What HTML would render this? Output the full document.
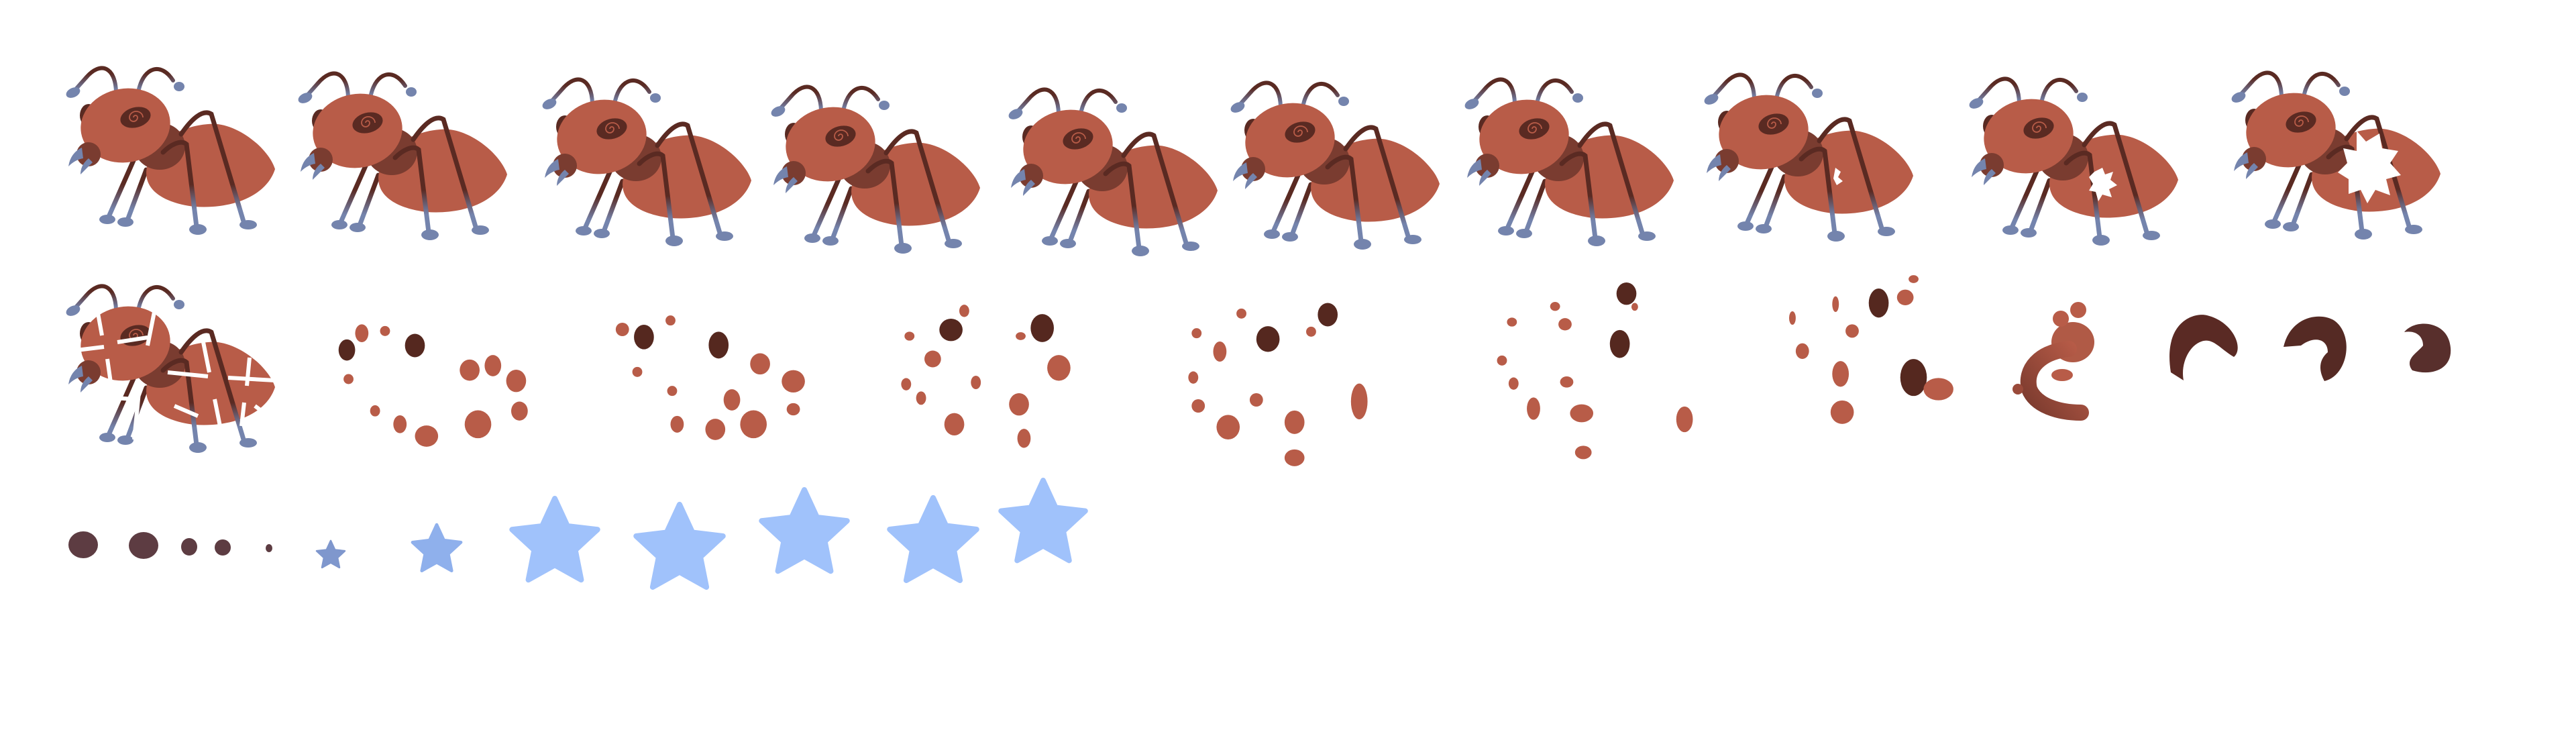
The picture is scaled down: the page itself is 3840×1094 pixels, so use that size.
<!DOCTYPE html>
<html><head><meta charset="utf-8"><title>Ant sprite sheet</title>
<style>html,body{margin:0;padding:0;background:#fff;}svg{display:block;}</style></head>
<body>
<svg id="sheet" xmlns="http://www.w3.org/2000/svg" width="3840" height="1094" viewBox="0 0 3840 1094">
<defs>
<linearGradient id="legG" gradientUnits="userSpaceOnUse" x1="0" y1="195" x2="0" y2="232">
<stop offset="0" stop-color="#5a2a22"/><stop offset="1" stop-color="#7484ad"/></linearGradient>
<linearGradient id="antG" gradientUnits="userSpaceOnUse" x1="0" y1="30" x2="0" y2="55">
<stop offset="0" stop-color="#5a2a22"/><stop offset="1" stop-color="#7484ad"/></linearGradient>
<linearGradient id="crG" x1="1" y1="0" x2="0" y2="1">
<stop offset="0" stop-color="#b85c48"/><stop offset="1" stop-color="#7a3a2e"/></linearGradient>
<g id="ant">
<path d="M93,57 C92,20 70,10 48,36 L32,54" fill="none" stroke="url(#antG)" stroke-width="6" stroke-linecap="round"/>
<ellipse cx="29" cy="58" rx="11" ry="7" transform="rotate(-25 29 58)" fill="#7484ad"/>
<path d="M127,53 C135,20 160,12 178,40" fill="none" stroke="url(#antG)" stroke-width="6" stroke-linecap="round"/>
<ellipse cx="187" cy="49" rx="8" ry="7" fill="#7484ad"/>
<path d="M120,157 L82,243" fill="none" stroke="url(#legG)" stroke-width="7" stroke-linecap="round"/>
<ellipse cx="80" cy="247" rx="12" ry="7" fill="#7484ad"/>
<path d="M138,173 L110,248" fill="none" stroke="url(#legG)" stroke-width="7" stroke-linecap="round"/>
<ellipse cx="107" cy="251" rx="12" ry="7" fill="#7484ad"/>
<path d="M230,105 C270,100 320,140 330,172 C318,210 270,232 210,228 C160,222 130,200 140,165 C150,130 190,108 230,105 Z" fill="#b85c48"/>
<ellipse cx="158" cy="138" rx="38" ry="35" fill="#7a3c30"/>
<ellipse cx="52" cy="92" rx="13" ry="17" fill="#5a2a22"/>
<ellipse cx="107" cy="107" rx="67" ry="55" transform="rotate(-10 107 107)" fill="#b85c48"/>
<ellipse cx="122" cy="95" rx="23" ry="15" transform="rotate(-15 122 95)" fill="#5a2a22"/>
<path d="M122,95 m-3,0 a3,3 0 1,1 6,0 a6,6 0 1,1 -12,0 a10,9 0 1,1 20,0" fill="none" stroke="#b85c48" stroke-width="1.8"/>
<circle cx="52" cy="150" r="18" fill="#7a3c30"/>
<path d="M42,140 Q25,148 22,168 Q32,158 44,156 Z" fill="#7484ad"/>
<path d="M52,156 Q40,166 40,180 Q50,170 58,162 Z" fill="#7484ad"/>
<path d="M163,147 C175,135 190,128 198,135 L213,258" fill="none" stroke="url(#legG)" stroke-width="7" stroke-linecap="round"/>
<ellipse cx="215" cy="262" rx="13" ry="8" fill="#7484ad"/>
<path d="M190,120 C205,98 222,82 235,90 L283,250" fill="none" stroke="url(#legG)" stroke-width="7" stroke-linecap="round"/>
<ellipse cx="290" cy="255" rx="13" ry="7" fill="#7484ad"/>
</g>
</defs>
<g id="ants"></g>
<g id="row2"></g>
<g id="row3"></g>
</svg>
<script>
const NS="http://www.w3.org/2000/svg";
// ant frame offsets (full px) relative to first frame
const antDX=[0,346,710,1051,1405,1736,2085,2442,2837,3228];
const antDY=[0,8,17,28,32,22,17,10,16,7];
// dot clusters: [zx, zy, w, h, dark(1)/brown(0)] in overview-zoom units
const clusters=[
[[209,425,10,95,1],[250,405,12,105,1],[218,350,8,80,0],[232,340,6,45,0],[210,555,6,45,0],[283,515,12,95,0],[297,495,10,95,0],[311,563,12,100,0],[313,698,10,85,0],[288,757,16,125,0],[257,810,14,95,0],[241,757,8,80,0],[226,697,6,50,0]],
[[388,367,12,110,1],[433,403,12,120,1],[375,333,8,60,0],[404,293,6,45,0],[384,523,6,45,0],[405,608,6,45,0],[458,487,12,95,0],[478,565,14,100,0],[441,648,10,95,0],[478,690,8,55,0],[454,757,16,125,0],[431,780,12,95,0],[408,757,8,75,0]],
[[573,335,14,100,1],[628,327,14,125,1],[581,250,6,55,0],[548,363,6,40,0],[615,363,6,35,0],[562,465,10,75,0],[638,505,14,115,0],[546,578,6,55,0],[588,570,6,60,0],[555,640,6,60,0],[614,668,12,100,0],[575,757,12,100,0],[617,820,8,85,0]],
[[800,267,12,105,1],[764,376,14,115,1],[748,262,6,45,0],[721,350,6,45,0],[790,343,6,45,0],[735,432,8,90,0],[719,548,6,55,0],[819,655,10,160,0],[757,648,8,60,0],[722,675,8,60,0],[740,770,14,110,0],[780,748,12,105,0],[780,907,12,75,0]],
[[980,173,12,100,1],[976,398,12,125,1],[937,230,6,40,0],[985,232,4,35,0],[911,300,6,40,0],[943,310,8,55,0],[905,472,6,45,0],[912,575,6,55,0],[944,568,8,50,0],[924,687,8,100,0],[953,708,14,80,0],[1015,735,10,115,0],[954,883,10,60,0]],
[[1132,215,12,130,1],[1153,548,16,165,1],[1153,108,6,35,0],[1148,190,10,70,0],[1106,220,4,70,0],[1080,282,4,60,0],[1116,340,8,60,0],[1086,430,8,70,0],[1109,532,10,115,0],[1168,600,18,100,0],[1110,703,14,105,0]]
];
// row 3 blobs: cx, cy, rx, ry
const blobs=[[124,812,22,20],[214,813,22,20],[282,815,12,13],[332,816,12,12],[401,817,5,6]];
// stars: cx, cy, outer radius
const starCX=[493,651,827,1013,1199,1391,1555];
const starCY=[828,820,810,820,797,810,782];
const starR=[22,38,67,68,67,68,66];
const starCol=["#7f97cd","#8fb0ec","#a0c2fb","#a0c2fb","#a0c2fb","#a0c2fb","#a0c2fb"];

function mk(tag,attrs,parent){const e=document.createElementNS(NS,tag);for(const k in attrs)e.setAttribute(k,attrs[k]);parent.appendChild(e);return e;}
const antsG=document.getElementById('ants');
antDX.forEach((dx,i)=>{
  const g=mk('g',{transform:`translate(${80+dx},${80+antDY[i]})`},antsG);
  
  
  mk('use',{href:'#ant'},g);
  if(i===7){mk('path',{d:'M214,160 l8,6 l-4,8 l7,6 l-9,6 l-5,-10 Z',fill:'#fff'},g);}
  if(i===8){mk('path',{d:'M205,160 l12,-6 l4,10 l12,-4 l-4,12 l10,8 l-12,6 l4,12 l-14,-4 l-6,10 l-4,-14 l-10,-2 l6,-10 l-6,-10 Z',fill:'#fff'},g);}
  if(i===9){mk('path',{d:'M205,108 l14,16 l20,-12 l4,22 l24,4 l-12,18 l16,18 l-22,6 l6,24 l-22,-8 l-12,20 l-10,-20 l-18,6 l0,-22 l-16,-10 l14,-14 l-6,-22 l20,4 Z',fill:'#fff'},g);}
});
const r2=document.getElementById('row2');
const ba=mk('g',{transform:'translate(80,405)'},r2);


mk('use',{href:'#ant'},ba);
mk('path',{d:'M10,120 L75,112 M95,105 L140,98 M62,40 L72,95 M80,130 L90,200 M150,60 L140,110 M128,170 L120,250 M170,150 L230,156 M260,158 L330,162 M222,100 L232,150 M240,190 L250,240 M292,128 L288,170 M284,195 L280,230 M20,182 L60,186 M90,188 L120,190 M180,200 L215,215 M300,200 L320,215',stroke:'#fff','stroke-width':'6',fill:'none'},ba);
clusters.forEach((c,ci)=>{
  const g=mk('g',{},r2);
  
  
  c.forEach(d=>{
    const e=mk('ellipse',{cx:d[0]*2.474,cy:380+d[1]/3,rx:d[2]*1.237,ry:d[3]/6,fill:d[4]?'#55281f':'#b85c48'},g);
    
    
  });
});
const cr=mk('g',{},r2);


mk('ellipse',{cx:3090,cy:510,rx:32,ry:30,fill:'#b05a46'},cr);
mk('circle',{cx:3072,cy:475,r:12,fill:'#b85c48'},cr);
mk('circle',{cx:3098,cy:462,r:12,fill:'#b85c48'},cr);
mk('path',{d:'M3084,520 C3040,525 3018,550 3025,580 C3035,605 3070,615 3102,615',fill:'none',stroke:'url(#crG)','stroke-width':'24','stroke-linecap':'round'},cr);
mk('ellipse',{cx:3074,cy:559,rx:16,ry:9,fill:'#b85c48'},cr);
mk('circle',{cx:3008,cy:580,r:8,fill:'#9a4a3a'},cr);
mk('path',{d:'M3236,555 C3224,480 3270,465 3290,470 C3330,480 3345,520 3330,532 C3310,520 3300,505 3285,508 C3265,512 3250,540 3255,567 Z',fill:'#5a2a24'},cr);
mk('path',{d:'M3404,517 C3415,470 3460,465 3480,478 C3510,500 3500,560 3465,568 C3455,550 3458,535 3470,525 C3470,505 3450,500 3430,515 Z',fill:'#552a24'},cr);
mk('path',{d:'M3584,495 C3600,475 3645,478 3652,512 C3660,548 3628,562 3596,552 C3583,535 3605,525 3612,515 C3612,500 3600,492 3584,495 Z',fill:'#582f2c'},cr);
const r3=document.getElementById('row3');
blobs.forEach((b,i)=>{
  const e=mk('ellipse',{cx:b[0],cy:b[1],rx:b[2],ry:b[3],fill:'#5d3c42'},r3);
  
  
});
starCX.forEach((cx,i)=>{
  const R=starR[i],cy=starCY[i],pts=[];
  for(let k=0;k<10;k++){const a=-Math.PI/2+k*Math.PI/5;const r=k%2?R*0.48:R;pts.push((cx+r*Math.cos(a)).toFixed(1)+','+(cy+r*Math.sin(a)).toFixed(1));}
  const p=mk('polygon',{points:pts.join(' '),fill:starCol[i],stroke:starCol[i],'stroke-width':R*0.12,'stroke-linejoin':'round'},r3);
  
  
});
</script>
</body></html>
